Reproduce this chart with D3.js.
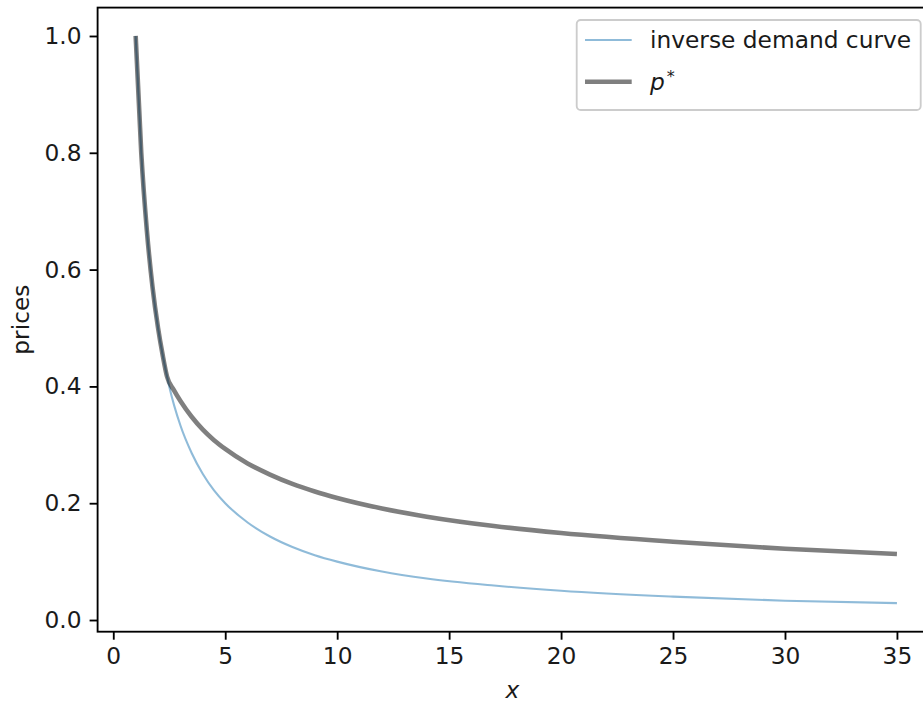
<!DOCTYPE html>
<html>
<head>
<meta charset="utf-8">
<script src="https://cdn.jsdelivr.net/npm/d3@7"></script>
<style>
  html, body { margin: 0; padding: 0; background: #fff; }
  svg { display: block; font-family: "DejaVu Sans", sans-serif; }
</style>
</head>
<body>
<svg id="chart" width="923" height="704"></svg>
<script>
// ---- data ----
const demandX = [1, 1.25, 1.5, 1.75, 2, 2.5, 3, 3.5, 4, 4.5, 5, 6, 7, 8, 9, 10, 12, 14, 17, 20, 25, 30, 35];
const demandP = [1.0, 0.8, 0.667, 0.571, 0.5, 0.4, 0.333, 0.286, 0.25, 0.222, 0.2, 0.167, 0.143, 0.125, 0.111, 0.1, 0.083, 0.071, 0.059, 0.05, 0.04, 0.033, 0.029];
const pStarX = [1, 1.25, 1.5, 1.75, 2, 2.2, 2.4, 2.7, 3, 3.5, 4, 4.5, 5, 6, 7, 8, 9, 10, 12, 14, 17, 20, 25, 30, 35];
const pStarP = [1.0, 0.8, 0.667, 0.571, 0.5, 0.455, 0.417, 0.394, 0.375, 0.348, 0.326, 0.308, 0.293, 0.268, 0.249, 0.233, 0.22, 0.209, 0.191, 0.177, 0.161, 0.149, 0.134, 0.122, 0.113];
const xTicks = [0, 5, 10, 15, 20, 25, 30, 35];
const yTicks = [0.0, 0.2, 0.4, 0.6, 0.8, 1.0];
const yTickLabels = ["0.0", "0.2", "0.4", "0.6", "0.8", "1.0"];
const seriesNames = ["inverse demand curve", "p*"];

(function () {
// ---- layout ----
const svg = d3.select("#chart");
const L = 97.6, R = 935, T = 7.6, B = 631.7;
const fs = 23.3;

const x = d3.scaleLinear().domain([-0.7, 36.7]).range([L, R]);
const y = d3.scaleLinear().domain([-0.02, 1.0486]).range([B, T]);

const demand = demandX.map((d, i) => [d, demandP[i]]);
const pstar = pStarX.map((d, i) => [d, pStarP[i]]);

const line = d3.line().x(d => x(d[0])).y(d => y(d[1])).curve(d3.curveMonotoneX);

svg.append("path").datum(demand)
  .attr("d", line).attr("fill", "none")
  .attr("stroke", "#1f77b4").attr("stroke-opacity", 0.5).attr("stroke-width", 2.1);

svg.append("path").datum(pstar)
  .attr("d", line).attr("fill", "none")
  .attr("stroke", "#000").attr("stroke-opacity", 0.5).attr("stroke-width", 4.6)
  .attr("stroke-linecap", "butt");

// axes
const xAxis = d3.axisBottom(x).tickValues(xTicks).tickSize(8).tickPadding(8).tickFormat(d3.format("d"));
const yAxis = d3.axisLeft(y).tickValues(yTicks).tickSize(8).tickPadding(8).tickFormat((d, i) => yTickLabels[i]);

const gx = svg.append("g").attr("transform", `translate(0,${B})`).call(xAxis);
const gy = svg.append("g").attr("transform", `translate(${L},0)`).call(yAxis);
[gx, gy].forEach(g => {
  g.select(".domain").remove();
  g.selectAll(".tick line").attr("stroke", "#000").attr("stroke-width", 1.85);
  g.selectAll(".tick text").attr("fill", "#1a1a1a").style("font-size", fs + "px").style("font-family", "DejaVu Sans");
});

// spines
svg.append("rect").attr("x", L).attr("y", T).attr("width", R - L).attr("height", B - T)
  .attr("fill", "none").attr("stroke", "#000").attr("stroke-width", 1.85);

// axis labels
svg.append("text").attr("x", (L + R) / 2 - 4).attr("y", 698).attr("fill", "#1a1a1a")
  .attr("text-anchor", "middle").style("font-size", fs + "px").style("font-style", "italic").text("x");
svg.append("text").attr("transform", `translate(29,${(T + B) / 2}) rotate(-90)`).attr("fill", "#1a1a1a")
  .attr("text-anchor", "middle").style("font-size", fs + "px").text("prices");

// legend
const lg = svg.append("g");
lg.append("rect").attr("x", 576.7).attr("y", 20).attr("width", 344).attr("height", 90).attr("rx", 4)
  .attr("fill", "#fff").attr("fill-opacity", 0.8).attr("stroke", "#cccccc").attr("stroke-width", 1.85);
const rows = [
  { y: 40, color: "#1f77b4", op: 0.5, w: 2.1 },
  { y: 81.7, color: "#000", op: 0.5, w: 4.6 }
];
rows.forEach(r => {
  lg.append("line").attr("x1", 585).attr("x2", 631.7).attr("y1", r.y).attr("y2", r.y)
    .attr("stroke", r.color).attr("stroke-opacity", r.op).attr("stroke-width", r.w);
});
lg.append("text").attr("x", 650).attr("y", 40).attr("dy", "0.35em").attr("fill", "#1a1a1a").style("font-size", fs + "px").text(seriesNames[0]);
const t2 = lg.append("text").attr("x", 650).attr("y", 81.7).attr("dy", "0.35em").attr("fill", "#1a1a1a").style("font-size", fs + "px");
t2.append("tspan").style("font-style", "italic").text("p");
t2.append("tspan").attr("dx", "2").attr("dy", "-0.5em").style("font-size", "16px").text("*");
})();
</script>
</body>
</html>
